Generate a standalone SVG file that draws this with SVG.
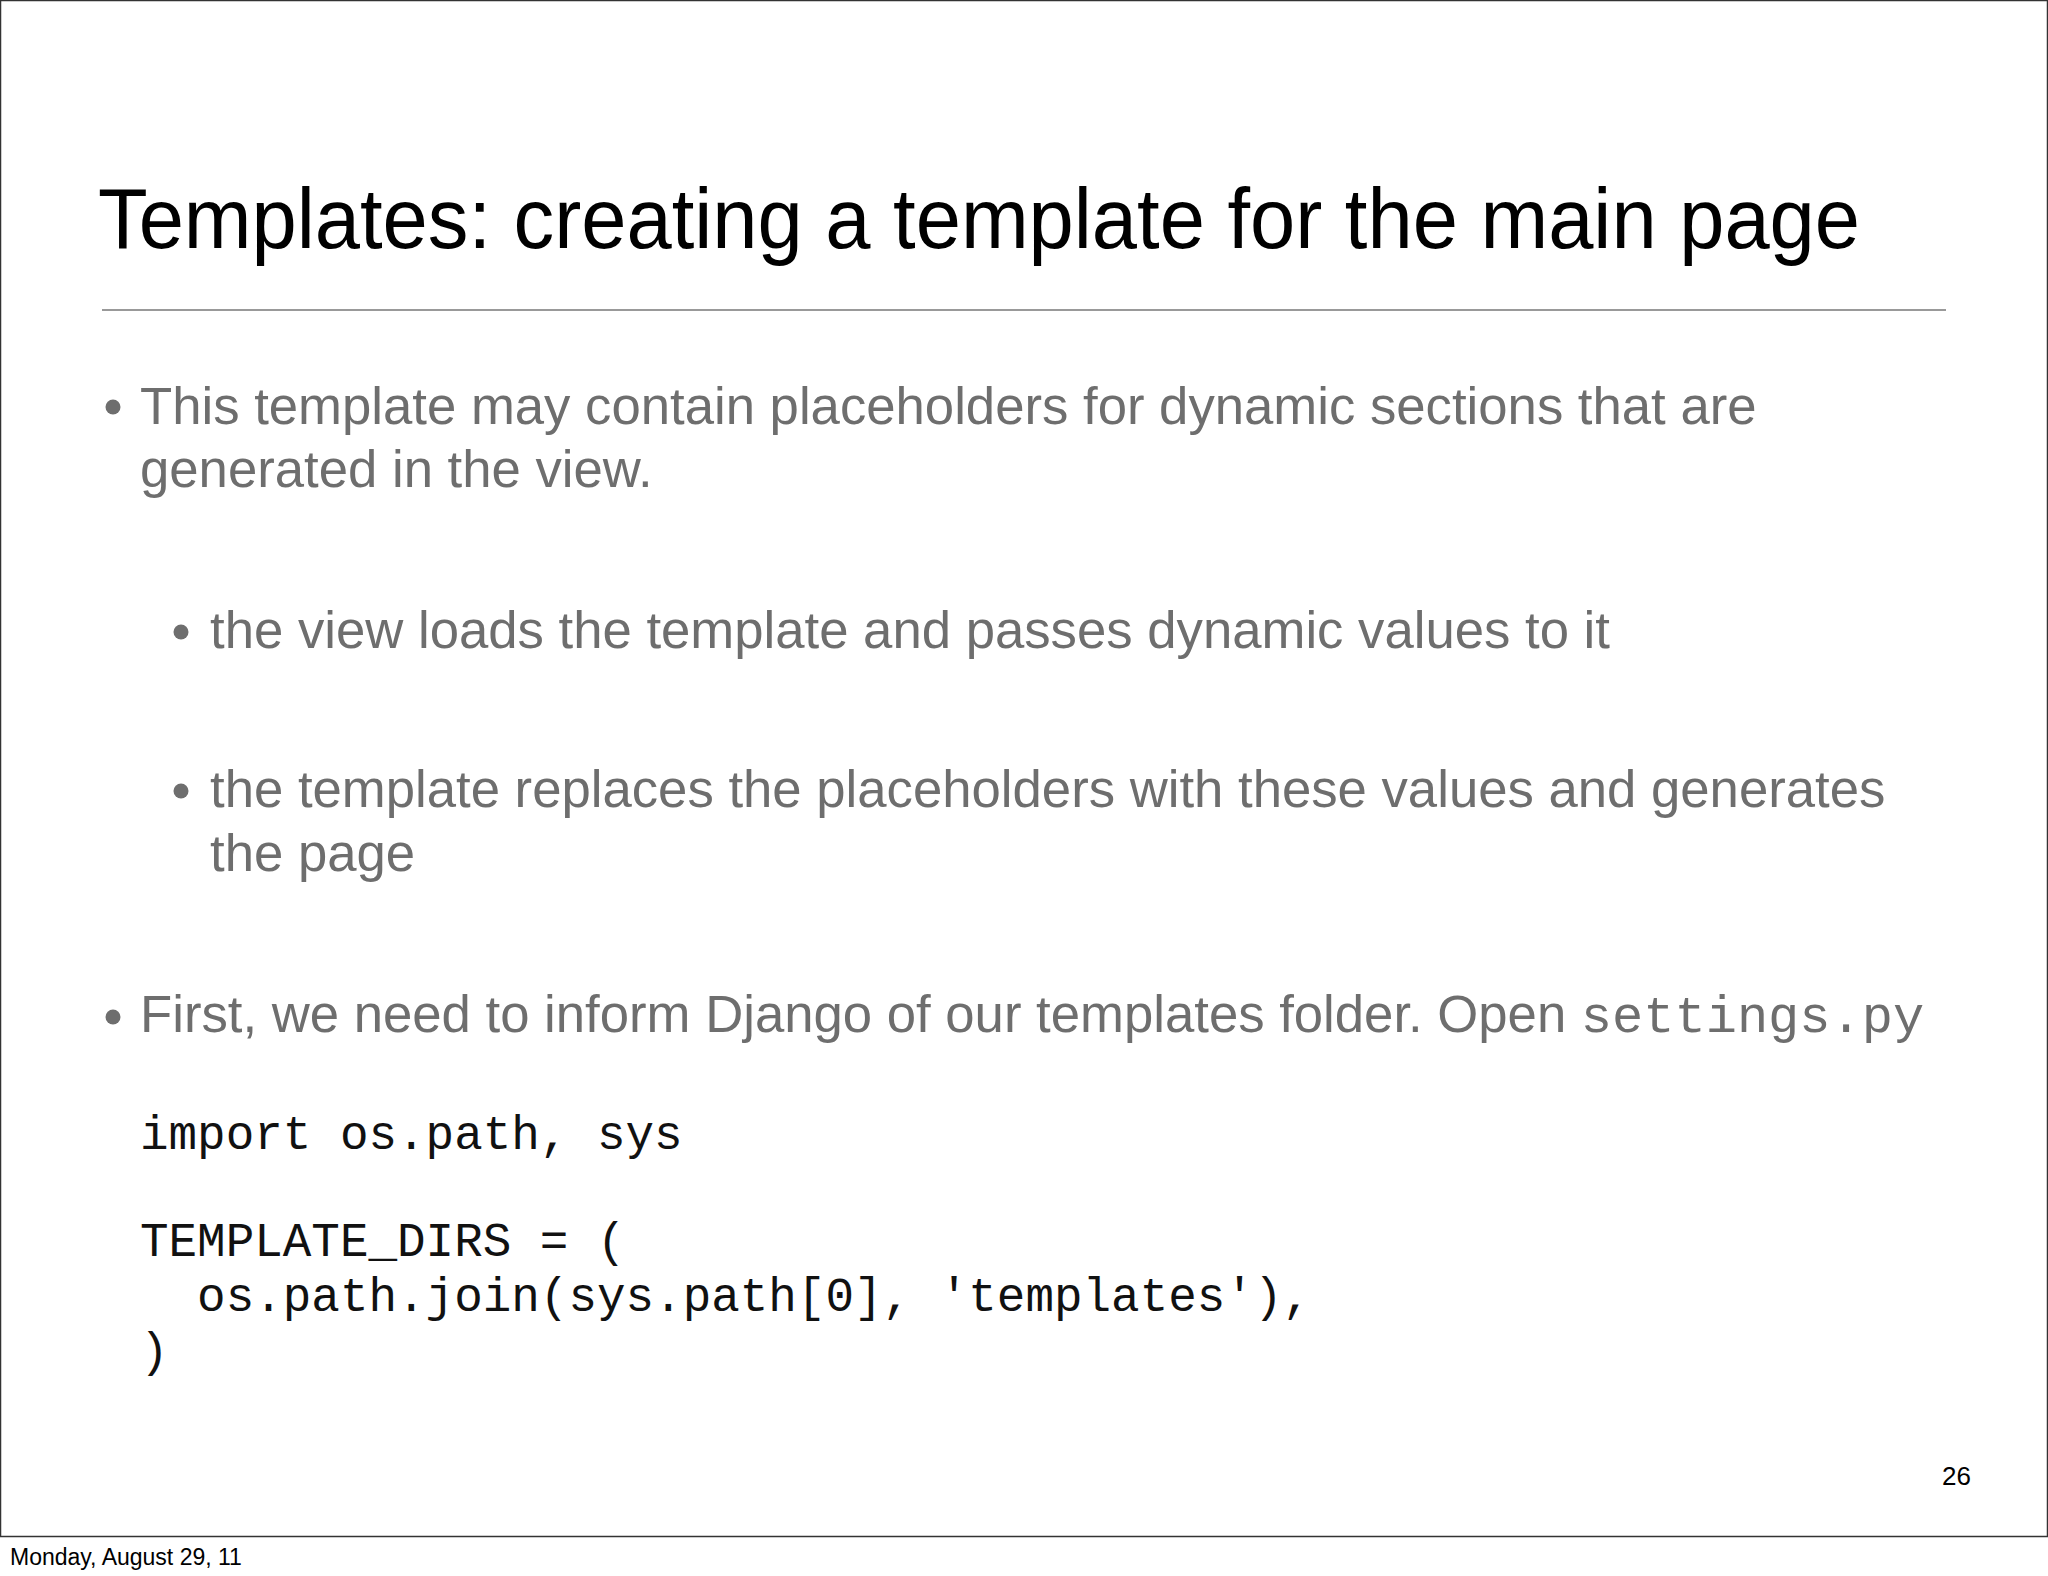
<svg xmlns="http://www.w3.org/2000/svg" width="2048" height="1576" viewBox="0 0 2048 1576">
<style>
.t{font-family:"Liberation Sans",Arial,sans-serif;fill:#6e6e6e;font-size:52.7px}
.m{font-family:"Liberation Mono","Courier New",monospace;font-size:47.6px;fill:#111}
</style>
<rect x="0" y="0" width="2048" height="1576" fill="#fff"/>
<rect x="0.5" y="0.5" width="2047" height="1536" fill="none" stroke="#333" stroke-width="1.5"/>
<text x="98" y="248" font-family="Liberation Sans,Arial,sans-serif" font-size="86" fill="#000" textLength="1762" lengthAdjust="spacingAndGlyphs">Templates: creating a template for the main page</text>
<line x1="102" y1="310" x2="1946" y2="310" stroke="#999" stroke-width="2"/>
<g fill="#6e6e6e">
<circle cx="113" cy="407" r="7.5"/>
<circle cx="181" cy="632" r="7.5"/>
<circle cx="181" cy="791" r="7.5"/>
<circle cx="113" cy="1017" r="7.5"/>
</g>
<text class="t" x="140" y="424">This template may contain placeholders for dynamic sections that are</text>
<text class="t" x="140" y="487">generated in the view.</text>
<text class="t" x="210" y="648">the view loads the template and passes dynamic values to it</text>
<text class="t" x="210" y="807">the template replaces the placeholders with these values and generates</text>
<text class="t" x="210" y="871">the page</text>
<text class="t" x="140" y="1032">First, we need to inform Django of our templates folder. Open <tspan font-family="Liberation Mono,Courier New,monospace" font-size="52">settings.py</tspan></text>
<text class="m" x="140" y="1149" xml:space="preserve">import os.path, sys</text>
<text class="m" x="140" y="1256" xml:space="preserve">TEMPLATE_DIRS = (</text>
<text class="m" x="140" y="1311" xml:space="preserve">  os.path.join(sys.path[0], 'templates'),</text>
<text class="m" x="140" y="1366" xml:space="preserve">)</text>
<text x="1942" y="1485" font-family="Liberation Sans,Arial,sans-serif" font-size="26" fill="#000">26</text>
<text x="10" y="1565" font-family="Liberation Sans,Arial,sans-serif" font-size="23" fill="#000">Monday, August 29, 11</text>
</svg>
